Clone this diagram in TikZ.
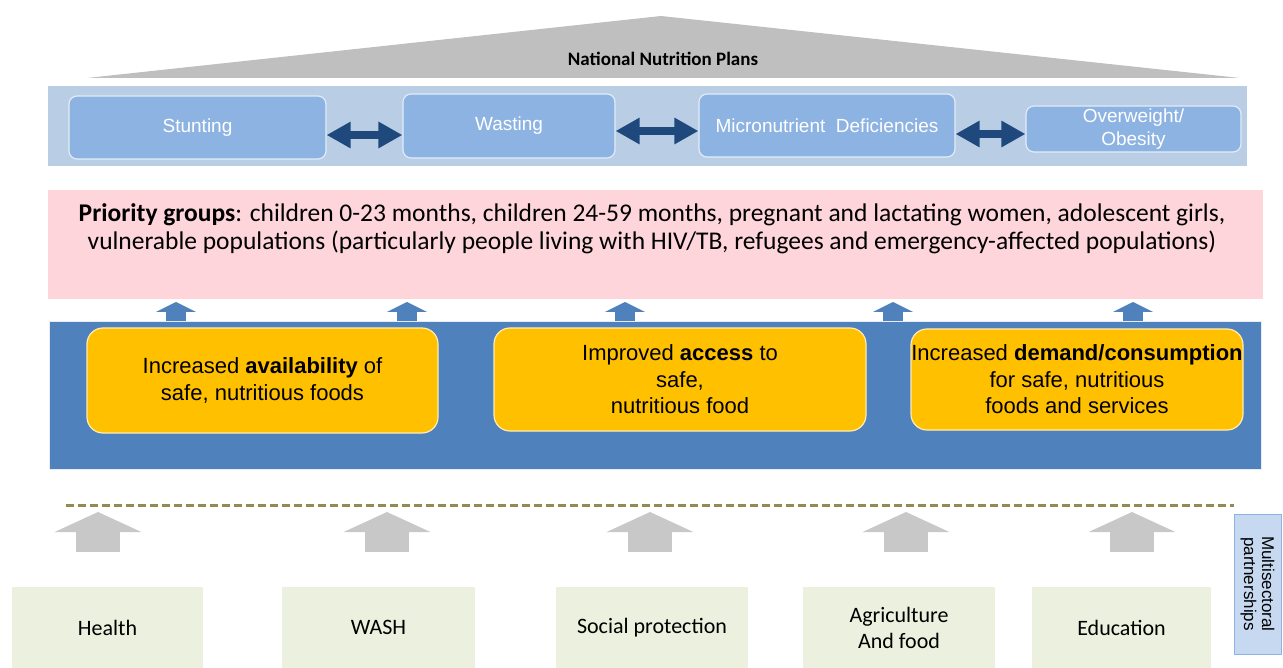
\documentclass[tikz,border=0pt]{standalone}
\usepackage{fontspec}
\setmainfont{Liberation Sans}
\newfontfamily\calfont{Carlito}
\usetikzlibrary{arrows.meta}
\definecolor{plangray}{HTML}{BFBFBF}
\definecolor{bandblue}{HTML}{B9CDE5}
\definecolor{probblue}{HTML}{8DB3E2}
\definecolor{darkblue}{HTML}{1F497D}
\definecolor{grouppink}{HTML}{FDD5DB}
\definecolor{midblue}{HTML}{4F81BD}
\definecolor{outgold}{HTML}{FFC000}
\definecolor{olive}{HTML}{948A54}
\definecolor{arrowgray}{HTML}{C8C8C8}
\definecolor{sectorgreen}{HTML}{EBF1DE}
\definecolor{partblue}{HTML}{C6D9F1}

\begin{document}
\begin{tikzpicture}[x=1pt, y=-1pt,
    prob/.style={draw=white!75!probblue, line width=1.2pt, fill=probblue, rounded corners=8pt,
      text=white, font=\fontsize{19}{23}\selectfont, align=center, inner sep=0pt},
    result/.style={draw=white!70!outgold, line width=1.2pt, fill=outgold, rounded corners=16pt,
      align=center, font=\fontsize{22}{26.5}\selectfont, inner sep=0pt},
    sector/.style={fill=sectorgreen, align=center, inner sep=0pt,
      font=\calfont\fontsize{22}{26}\selectfont},
    both/.style={darkblue, line width=8pt,
      {Triangle[length=24pt, width=25pt]}-{Triangle[length=24pt, width=25pt]}},
    smallup/.style={midblue, line width=20pt, -{Triangle[length=10pt, width=40pt]}},
    bigup/.style={arrowgray, line width=44pt, -{Triangle[length=20pt, width=86pt]}}]
  \useasboundingbox (0,0) rectangle (1283,668);

  % plans roof
  \fill[plangray] (87,78) -- (661,16) -- (1240,78) -- cycle;
  \node[font=\calfont\bfseries\fontsize{19}{22}\selectfont] (plans) at (663,59) {National Nutrition Plans};

  % forms of malnutrition
  \fill[bandblue] (48,86) rectangle (1247,166);
  \node[prob, minimum width=257, minimum height=63] (stunt) at (197.5,127.5) {Stunting};
  \node[prob, minimum width=212, minimum height=64] (wast) at (509,126) {Wasting};
  \node[prob, minimum width=256, minimum height=63] (micro) at (827,125.5) {Micronutrient\ \ Deficiencies};
  \node[prob, minimum width=215, minimum height=46] (obese) at (1133.5,129) {Overweight/\\Obesity};
  \draw[both] (stunt.east |- 0,135) -- (wast.west |- 0,135);
  \draw[both] (wast.east |- 0,131) -- (micro.west |- 0,131);
  \draw[both] (micro.east |- 0,134) -- (obese.west |- 0,134);

  % priority groups
  \fill[grouppink] (48,190) rectangle (1263,299);
  \node[font=\calfont\fontsize{25.5}{28}\selectfont, align=center] (groups) at (652,229)
    {\textbf{Priority groups}: children 0-23 months, children 24-59 months, pregnant and lactating women, adolescent girls,\\
     vulnerable populations (particularly people living with HIV/TB, refugees and emergency-affected populations)};

  % outcomes
  \foreach \x in {176,407,625,893,1133}
    \draw[smallup] (\x,321) -- (\x,302);
  \draw[fill=midblue, draw=white!85!midblue] (49,321) rectangle (1261,469);
  \node[result, minimum width=351, minimum height=105] (avail) at (262.5,380.5)
    {Increased \textbf{availability} of\\safe, nutritious foods};
  \node[result, minimum width=372, minimum height=103] (access) at (680,379.5)
    {Improved \textbf{access} to\\safe,\\nutritious food};
  \node[result, minimum width=332, minimum height=101] (demand) at (1077,379.5)
    {Increased \textbf{demand/consumption}\\for safe, nutritious\\foods and services};

  % sectors
  \draw[olive, line width=3pt, dash pattern=on 8pt off 4pt] (66,505) -- (1234,505);
  \foreach \x in {98,387,650,906,1132}
    \draw[bigup] (\x,552) -- (\x,512);
  \node[sector, minimum width=191, minimum height=81] (health) at (107.5,627.5) {Health};
  \node[sector, minimum width=193, minimum height=81] (wash) at (378.5,627.5) {WASH};
  \node[sector, minimum width=192, minimum height=81] (social) at (652,627.5) {Social protection};
  \node[sector, minimum width=192, minimum height=81] (agri) at (899,627.5) {Agriculture\\And food};
  \node[sector, minimum width=179, minimum height=81] (edu) at (1121.5,627.5) {Education};
  \node[draw=probblue, fill=partblue, rotate=-90, minimum width=140, minimum height=47, inner sep=0pt,
    align=center, font=\fontsize{17}{18}\selectfont] (partner) at (1257.5,584) {Multisectoral\\partnerships};
\end{tikzpicture}
\end{document}
